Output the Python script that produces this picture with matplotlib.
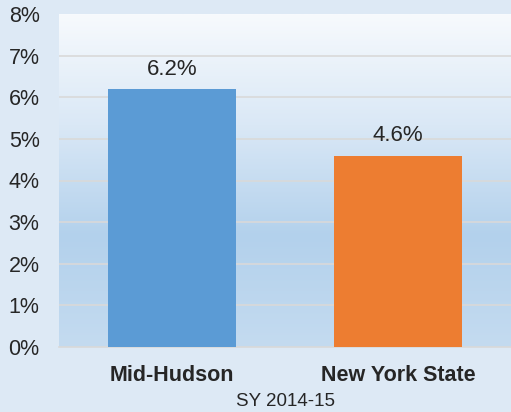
import matplotlib.pyplot as plt
import numpy as np
from matplotlib.colors import LinearSegmentedColormap

plt.rcParams['font.family'] = ['Liberation Sans', 'DejaVu Sans']

# Data
categories = ["Mid-Hudson", "New York State"]
values = [6.2, 4.6]
bar_colors = ["#5b9bd5", "#ed7d31"]
yticks = [0, 1, 2, 3, 4, 5, 6, 7, 8]
xlabel = "SY 2014-15"

fig = plt.figure(figsize=(5.11, 4.12), dpi=100)
fig.patch.set_facecolor("#dde9f5")
ax = fig.add_axes([59 / 511, 1 - 347 / 412, 452 / 511, 333 / 412])

# gradient background for plot area
grad = LinearSegmentedColormap.from_list("bg", ["#c4dbf0", "#b3d1ec", "#dae8f6", "#f7fafd"])
ax.imshow(np.linspace(0, 1, 256).reshape(-1, 1), cmap=grad, origin="lower",
          extent=[-0.5, 1.5, 0, 8], aspect="auto", zorder=0)

x = np.arange(len(categories))
bars = ax.bar(x, values, width=0.57, color=bar_colors, zorder=3)

for bar, v in zip(bars, values):
    ax.text(bar.get_x() + bar.get_width() / 2, v + 0.22, f"{v:.1f}%",
            ha="center", va="bottom", fontsize=16, color="#262626")

ax.set_xlim(-0.5, 1.5)
ax.set_ylim(0, 8)
ax.set_yticks(yticks)
ax.set_yticklabels([f"{t}%" for t in yticks], fontsize=15.5, color="#262626")
ax.set_xticks(x)
ax.set_xticklabels(categories, fontsize=15.5, fontweight="bold", color="#262626")
ax.set_xlabel(xlabel, fontsize=13.5, color="#262626", labelpad=5)
ax.tick_params(axis="y", length=0, pad=14)
ax.tick_params(axis="x", length=0, pad=13)

for t in yticks[1:-1]:
    ax.axhline(t, color="#d9d9d9", linewidth=1.2, zorder=1)

for s in ["top", "right", "left"]:
    ax.spines[s].set_visible(False)
ax.spines["bottom"].set_color("#d9d9d9")
ax.spines["bottom"].set_linewidth(1.2)

fig.savefig("out.png", dpi=100, facecolor=fig.get_facecolor())
